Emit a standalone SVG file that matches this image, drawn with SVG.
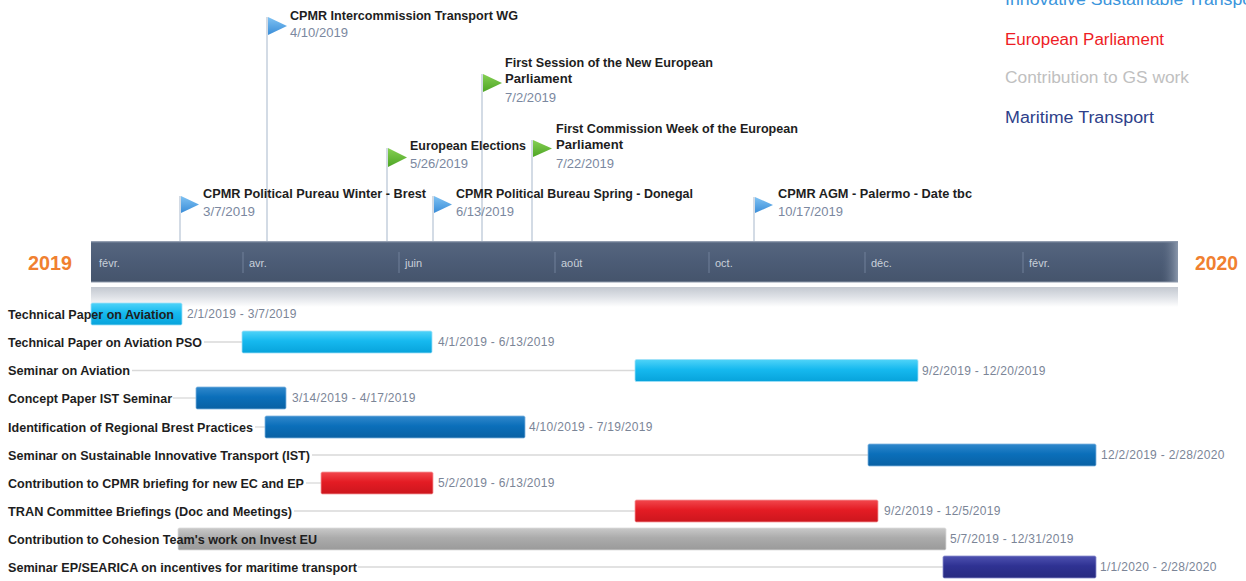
<svg xmlns="http://www.w3.org/2000/svg" width="1246" height="581" viewBox="0 0 1246 581">
<defs>
<linearGradient id="gCyan" x1="0" y1="0" x2="0" y2="1"><stop offset="0" stop-color="#4fd3f8"/><stop offset="0.45" stop-color="#16b9ef"/><stop offset="1" stop-color="#07a3db"/></linearGradient>
<linearGradient id="gBlue" x1="0" y1="0" x2="0" y2="1"><stop offset="0" stop-color="#3088cc"/><stop offset="0.45" stop-color="#0b6fba"/><stop offset="1" stop-color="#0961a4"/></linearGradient>
<linearGradient id="gRed" x1="0" y1="0" x2="0" y2="1"><stop offset="0" stop-color="#f2474d"/><stop offset="0.45" stop-color="#e41c24"/><stop offset="1" stop-color="#cc161d"/></linearGradient>
<linearGradient id="gGray" x1="0" y1="0" x2="0" y2="1"><stop offset="0" stop-color="#c9c9c9"/><stop offset="0.45" stop-color="#ababab"/><stop offset="1" stop-color="#9a9a9a"/></linearGradient>
<linearGradient id="gNavy" x1="0" y1="0" x2="0" y2="1"><stop offset="0" stop-color="#4d51b0"/><stop offset="0.45" stop-color="#2f3293"/><stop offset="1" stop-color="#272a80"/></linearGradient>
<linearGradient id="gAxis" x1="0" y1="0" x2="0" y2="1"><stop offset="0" stop-color="#56667f"/><stop offset="0.5" stop-color="#4c5c76"/><stop offset="1" stop-color="#45546c"/></linearGradient>
<linearGradient id="gAxisEnd" x1="0" y1="0" x2="1" y2="0"><stop offset="0" stop-color="#4c5c76" stop-opacity="0"/><stop offset="1" stop-color="#8a97ab"/></linearGradient>
<linearGradient id="gRefl" x1="0" y1="0" x2="0" y2="1"><stop offset="0" stop-color="#c3c8d0"/><stop offset="0.5" stop-color="#dfe2e7"/><stop offset="1" stop-color="#ffffff"/></linearGradient>
<linearGradient id="gFlagB" x1="0" y1="0" x2="0" y2="1"><stop offset="0" stop-color="#7fc2f3"/><stop offset="1" stop-color="#3a8dd8"/></linearGradient>
<linearGradient id="gFlagG" x1="0" y1="0" x2="0" y2="1"><stop offset="0" stop-color="#86d054"/><stop offset="1" stop-color="#4da524"/></linearGradient>
</defs>
<style>
.lbl{font-family:"Liberation Sans",Arial,sans-serif;font-weight:bold;font-size:12.5px;fill:#1e1e1e}
.dt{font-family:"Liberation Sans",Arial,sans-serif;font-size:12px;letter-spacing:0.3px;fill:#7b8597}
.mt{font-family:"Liberation Sans",Arial,sans-serif;font-weight:bold;font-size:12.5px;fill:#1e1e1e}
.md{font-family:"Liberation Sans",Arial,sans-serif;font-size:12.5px;fill:#7b88a0}
.mon{font-family:"Liberation Sans",Arial,sans-serif;font-size:11px;fill:#c9d0da}
.yr{font-family:"Liberation Sans",Arial,sans-serif;font-size:20px;font-weight:bold;fill:#f08030}
.leg{font-family:"Liberation Sans",Arial,sans-serif;font-size:16px}
.pole{stroke:#c4cfdc;stroke-width:1.5}
.guide{stroke:#d9d9d9;stroke-width:1.3}
.div{stroke:#71809a;stroke-width:1}
.bc{stroke:#9fe0f7;stroke-width:0.8}
.bb{stroke:#7fb2de;stroke-width:0.8}
.br{stroke:#f59a9d;stroke-width:0.8}
.bg{stroke:#dadada;stroke-width:0.8}
.bn{stroke:#8a8dcc;stroke-width:0.8}
</style>
<rect width="1246" height="581" fill="#ffffff"/>

<g id="legend">
<text class="leg" x="1005" y="5" fill="#3b95dc" textLength="258" lengthAdjust="spacingAndGlyphs">Innovative Sustainable Transport</text>
<text class="leg" x="1005" y="45" fill="#ee1c25" textLength="159" lengthAdjust="spacingAndGlyphs">European Parliament</text>
<text class="leg" x="1005" y="83" fill="#c0c0c0" textLength="184" lengthAdjust="spacingAndGlyphs">Contribution to GS work</text>
<text class="leg" x="1005" y="123" fill="#2e3f8a" textLength="149" lengthAdjust="spacingAndGlyphs">Maritime Transport</text>
</g>

<g id="connectors">
<line class="pole" x1="180" y1="196" x2="180" y2="241"/>
<line class="pole" x1="267" y1="17" x2="267" y2="241"/>
<line class="pole" x1="387" y1="148" x2="387" y2="241"/>
<line class="pole" x1="433" y1="196" x2="433" y2="241"/>
<line class="pole" x1="482" y1="74" x2="482" y2="241"/>
<line class="pole" x1="532" y1="140" x2="532" y2="241"/>
<line class="pole" x1="754" y1="197" x2="754" y2="241"/>
<line class="guide" x1="204" y1="342" x2="242" y2="342"/>
<line class="guide" x1="132" y1="370.5" x2="635" y2="370.5"/>
<line class="guide" x1="173" y1="398" x2="196" y2="398"/>
<line class="guide" x1="255" y1="427" x2="265" y2="427"/>
<line class="guide" x1="312" y1="455" x2="868" y2="455"/>
<line class="guide" x1="306" y1="483" x2="321" y2="483"/>
<line class="guide" x1="294" y1="511" x2="635" y2="511"/>
<line class="guide" x1="358" y1="567" x2="943" y2="567"/>
</g>

<g id="timeline">
<rect x="91" y="287" width="1087" height="20" fill="url(#gRefl)"/>
<rect x="91" y="241.5" width="1087" height="40.5" fill="url(#gAxis)"/>
<rect x="1160" y="241.5" width="18" height="40.5" fill="url(#gAxisEnd)"/>
<line x1="91" y1="242" x2="1178" y2="242" stroke="#7d8aa0" stroke-width="1"/>
<line x1="91" y1="282" x2="1178" y2="282" stroke="#8f9aab" stroke-width="1"/>
<line class="div" x1="243" y1="252" x2="243" y2="273"/>
<line class="div" x1="399" y1="252" x2="399" y2="273"/>
<line class="div" x1="555" y1="252" x2="555" y2="273"/>
<line class="div" x1="709" y1="252" x2="709" y2="273"/>
<line class="div" x1="865" y1="252" x2="865" y2="273"/>
<line class="div" x1="1023" y1="252" x2="1023" y2="273"/>
<text class="mon" x="99" y="267">févr.</text>
<text class="mon" x="249" y="267">avr.</text>
<text class="mon" x="405" y="267">juin</text>
<text class="mon" x="561" y="267">août</text>
<text class="mon" x="715" y="267">oct.</text>
<text class="mon" x="871" y="267">déc.</text>
<text class="mon" x="1029" y="267">févr.</text>
<text class="yr" x="28" y="270" textLength="44" lengthAdjust="spacingAndGlyphs">2019</text>
<text class="yr" x="1195" y="270" textLength="43" lengthAdjust="spacingAndGlyphs">2020</text>
</g>

<g id="m1">
<polygon points="181,196 199,204.5 181,213" fill="url(#gFlagB)"/>
<text class="mt" x="203" y="198" textLength="223" lengthAdjust="spacingAndGlyphs">CPMR Political Pureau Winter - Brest</text>
<text class="md" x="203" y="216" textLength="52" lengthAdjust="spacingAndGlyphs">3/7/2019</text>
</g>
<g id="m2">
<polygon points="268,17 287,26 268,35" fill="url(#gFlagB)"/>
<text class="mt" x="290" y="20" textLength="228" lengthAdjust="spacingAndGlyphs">CPMR Intercommission Transport WG</text>
<text class="md" x="290" y="37" textLength="58" lengthAdjust="spacingAndGlyphs">4/10/2019</text>
</g>
<g id="m3">
<polygon points="388,148 407,157.5 388,167" fill="url(#gFlagG)"/>
<text class="mt" x="410" y="150" textLength="116" lengthAdjust="spacingAndGlyphs">European Elections</text>
<text class="md" x="410" y="168" textLength="58" lengthAdjust="spacingAndGlyphs">5/26/2019</text>
</g>
<g id="m4">
<polygon points="434,196 452,204.5 434,213" fill="url(#gFlagB)"/>
<text class="mt" x="456" y="198" textLength="237" lengthAdjust="spacingAndGlyphs">CPMR Political Bureau Spring - Donegal</text>
<text class="md" x="456" y="216" textLength="58" lengthAdjust="spacingAndGlyphs">6/13/2019</text>
</g>
<g id="m5">
<polygon points="483,74 502,83 483,92" fill="url(#gFlagG)"/>
<text class="mt" x="505" y="67" textLength="208" lengthAdjust="spacingAndGlyphs">First Session of the New European</text>
<text class="mt" x="505" y="83" textLength="67" lengthAdjust="spacingAndGlyphs">Parliament</text>
<text class="md" x="505" y="102" textLength="51" lengthAdjust="spacingAndGlyphs">7/2/2019</text>
</g>
<g id="m6">
<polygon points="533,140 552,148.5 533,157" fill="url(#gFlagG)"/>
<text class="mt" x="556" y="133" textLength="242" lengthAdjust="spacingAndGlyphs">First Commission Week of the European</text>
<text class="mt" x="556" y="149" textLength="67" lengthAdjust="spacingAndGlyphs">Parliament</text>
<text class="md" x="556" y="168" textLength="58" lengthAdjust="spacingAndGlyphs">7/22/2019</text>
</g>
<g id="m7">
<polygon points="755,197 773,205 755,213" fill="url(#gFlagB)"/>
<text class="mt" x="778" y="198" textLength="194" lengthAdjust="spacingAndGlyphs">CPMR AGM - Palermo - Date tbc</text>
<text class="md" x="778" y="216" textLength="65" lengthAdjust="spacingAndGlyphs">10/17/2019</text>
</g>

<g id="t1">
<rect class="bc" x="91" y="303" width="91" height="22" rx="1.5" fill="url(#gCyan)"/>
<text class="lbl" x="8" y="318.5" textLength="166" lengthAdjust="spacingAndGlyphs">Technical Paper on Aviation</text>
<text class="dt" x="187" y="318">2/1/2019 - 3/7/2019</text>
</g>
<g id="t2">
<rect class="bc" x="242" y="331" width="190" height="22" rx="1.5" fill="url(#gCyan)"/>
<text class="lbl" x="8" y="346.5" textLength="194" lengthAdjust="spacingAndGlyphs">Technical Paper on Aviation PSO</text>
<text class="dt" x="438" y="346">4/1/2019 - 6/13/2019</text>
</g>
<g id="t3">
<rect class="bc" x="635" y="359.5" width="283" height="22" rx="1.5" fill="url(#gCyan)"/>
<text class="lbl" x="8" y="375" textLength="122" lengthAdjust="spacingAndGlyphs">Seminar on Aviation</text>
<text class="dt" x="922" y="374.5">9/2/2019 - 12/20/2019</text>
</g>
<g id="t4">
<rect class="bb" x="196" y="387" width="90" height="22" rx="1.5" fill="url(#gBlue)"/>
<text class="lbl" x="8" y="402.5" textLength="164" lengthAdjust="spacingAndGlyphs">Concept Paper IST Seminar</text>
<text class="dt" x="292" y="402">3/14/2019 - 4/17/2019</text>
</g>
<g id="t5">
<rect class="bb" x="265" y="416" width="260" height="22" rx="1.5" fill="url(#gBlue)"/>
<text class="lbl" x="8" y="431.5" textLength="245" lengthAdjust="spacingAndGlyphs">Identification of Regional Brest Practices</text>
<text class="dt" x="529" y="431">4/10/2019 - 7/19/2019</text>
</g>
<g id="t6">
<rect class="bb" x="868" y="444" width="228" height="22" rx="1.5" fill="url(#gBlue)"/>
<text class="lbl" x="8" y="459.5" textLength="302" lengthAdjust="spacingAndGlyphs">Seminar on Sustainable Innovative Transport (IST)</text>
<text class="dt" x="1101" y="459">12/2/2019 - 2/28/2020</text>
</g>
<g id="t7">
<rect class="br" x="321" y="472" width="112" height="22" rx="1.5" fill="url(#gRed)"/>
<text class="lbl" x="8" y="487.5" textLength="296" lengthAdjust="spacingAndGlyphs">Contribution to CPMR briefing for new EC and EP</text>
<text class="dt" x="438" y="487">5/2/2019 - 6/13/2019</text>
</g>
<g id="t8">
<rect class="br" x="635" y="500" width="243" height="22" rx="1.5" fill="url(#gRed)"/>
<text class="lbl" x="8" y="515.5" textLength="284" lengthAdjust="spacingAndGlyphs">TRAN Committee Briefings (Doc and Meetings)</text>
<text class="dt" x="884" y="515">9/2/2019 - 12/5/2019</text>
</g>
<g id="t9">
<rect class="bg" x="178" y="528" width="768" height="22" rx="1.5" fill="url(#gGray)"/>
<text class="lbl" x="8" y="543.5" textLength="309" lengthAdjust="spacingAndGlyphs">Contribution to Cohesion Team's work on Invest EU</text>
<text class="dt" x="950" y="543">5/7/2019 - 12/31/2019</text>
</g>
<g id="t10">
<rect class="bn" x="943" y="556" width="153" height="22" rx="1.5" fill="url(#gNavy)"/>
<text class="lbl" x="8" y="571.5" textLength="349" lengthAdjust="spacingAndGlyphs">Seminar EP/SEARICA on incentives for maritime transport</text>
<text class="dt" x="1100" y="571">1/1/2020 - 2/28/2020</text>
</g>
</svg>
